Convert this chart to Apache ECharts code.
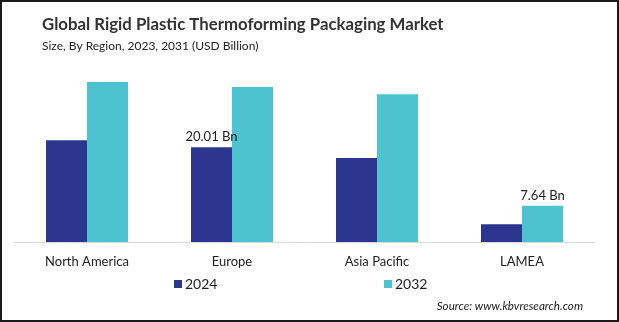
<!DOCTYPE html>
<html><head><meta charset="utf-8">
<script src="https://cdn.jsdelivr.net/npm/echarts@6/dist/echarts.min.js"></script>
<style>html,body{margin:0;padding:0;background:#fff}#c{width:619px;height:322px}</style>
</head><body><div id="c"></div>
<script>
const categories = ['North America', 'Europe', 'Asia Pacific', 'LAMEA'];
const seriesNames = ['2024', '2032'];
const values2024 = [21.49, 20.01, 17.75, 3.74];
const values2032 = [33.8, 32.75, 31.2, 7.64];
const labels2024 = ['', '20.01 Bn', '', ''];
const labels2032 = ['', '', '', '7.64 Bn'];
const titleText = 'Global Rigid Plastic Thermoforming Packaging Market';
const subtitleText = 'Size, By Region, 2023, 2031 (USD Billion)';
const sourceText = 'Source: www.kbvresearch.com';

const FONT = 'Lato, "Open Sans", sans-serif';
const chart = echarts.init(document.getElementById('c'), null, {renderer: 'canvas'});
function mk(vals, labs) {
  return vals.map((v, i) => ({
    value: v,
    label: {show: labs[i] !== '', formatter: labs[i]}
  }));
}
chart.setOption({
  animation: false,
  backgroundColor: '#fff',
  title: [
    {text: titleText, left: 37, top: 11,
     textStyle: {fontFamily: FONT, fontWeight: 'bold', fontSize: 16.8, color: '#333'}},
    {text: subtitleText, left: 37, top: 35,
     textStyle: {fontFamily: FONT, fontWeight: 'normal', fontSize: 12, color: '#222'}},
    {text: sourceText, right: 31, top: 295,
     textStyle: {fontFamily: FONT, fontWeight: 'normal', fontStyle: 'italic', fontSize: 11.6, color: '#222'}}
  ],
  legend: [
    {data: [seriesNames[0]], left: 169, top: 272, itemWidth: 8, itemHeight: 8,
     icon: 'rect', itemGap: 3, textStyle: {fontFamily: FONT, fontSize: 14, color: '#222', padding: [0,0,0,-2]}},
    {data: [seriesNames[1]], left: 379, top: 272, itemWidth: 8, itemHeight: 8,
     icon: 'rect', textStyle: {fontFamily: FONT, fontSize: 14, color: '#222', padding: [0,0,0,-2]}}
  ],
  grid: {left: 14.5, right: 24.5, top: 52.7, bottom: 80, containLabel: false},
  xAxis: {
    type: 'category', data: categories,
    axisLine: {show: true, lineStyle: {color: '#d9d9d9', width: 1}},
    axisTick: {show: false},
    axisLabel: {fontFamily: FONT, fontSize: 13, color: '#222', margin: 13}
  },
  yAxis: {type: 'value', min: 0, max: 40, show: false, splitLine: {show: false}},
  series: [
    {name: seriesNames[0], type: 'bar', barWidth: 41, barGap: '0%',
     itemStyle: {color: '#2C368E'}, data: mk(values2024, labels2024),
     label: {position: 'top', distance: 4, fontFamily: FONT, fontSize: 13, color: '#222'}},
    {name: seriesNames[1], type: 'bar', barWidth: 41, barGap: '0%',
     itemStyle: {color: '#4DC3CF'}, data: mk(values2032, labels2032),
     label: {position: 'top', distance: 4, fontFamily: FONT, fontSize: 13, color: '#222'}}
  ],
  graphic: [
    {type: 'rect', shape: {x: 1, y: 1, width: 617, height: 320}, silent: true,
     style: {fill: null, stroke: '#1a1a1a', lineWidth: 2}, z: 100}
  ]
});
</script></body></html>
